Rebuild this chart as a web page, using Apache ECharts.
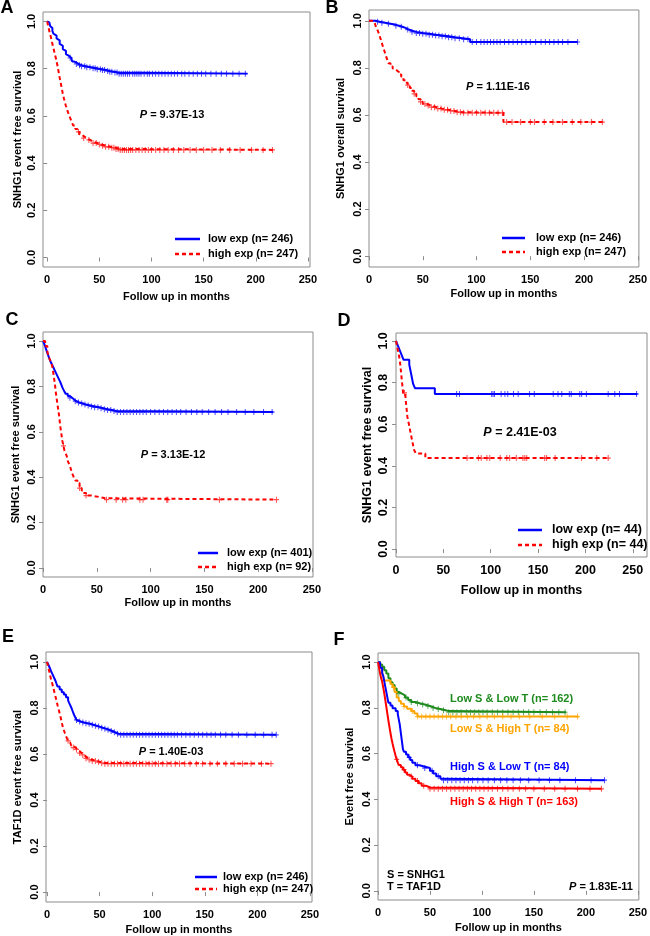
<!DOCTYPE html>
<html><head><meta charset="utf-8">
<script src="https://cdn.jsdelivr.net/npm/echarts@6/dist/echarts.min.js"></script>
<style>html,body{margin:0;padding:0;background:#fff}#c{width:650px;height:936px}</style>
</head><body><div id="c"></div>
<script>
// ---------- tick labels ----------
const xTicks = [0, 50, 100, 150, 200, 250];
const yTicks = [0, 0.2, 0.4, 0.6, 0.8, 1.0];

// ---------- Kaplan-Meier step data [months, survival] ----------
const A_low = [[0,1],[1,0.996],[2,0.988],[3,0.98],[4,0.972],[5,0.96],[6,0.948],[7,0.94],[9,0.928],[10,0.92],[12,0.905],[13,0.897],[15,0.883],[16,0.875],[18,0.862],[19,0.854],[21,0.846],[23,0.838],[24,0.83],[26,0.826],[28,0.82],[30,0.815],[33,0.81],[37,0.806],[42,0.802],[47,0.798],[52,0.794],[57,0.79],[60,0.787],[64,0.784],[68,0.779],[192,0.779]];
const A_high = [[0,1],[1,0.98],[2,0.96],[3,0.944],[4,0.925],[5,0.905],[6,0.888],[7,0.868],[8,0.85],[9,0.832],[10,0.81],[11,0.786],[12,0.762],[13,0.74],[14,0.716],[15,0.694],[16,0.675],[17,0.658],[18,0.642],[19,0.628],[20,0.615],[21,0.603],[22,0.592],[23,0.58],[24,0.569],[25,0.559],[27,0.545],[29,0.532],[31,0.522],[33,0.514],[35,0.506],[38,0.498],[41,0.491],[44,0.485],[48,0.479],[52,0.474],[56,0.469],[61,0.465],[66,0.46],[70,0.456],[218,0.456]];
const A_lowCensor = [22,28,31,33,36,38,41,44,46,48,51,53,55,58,60,62,65,67,69,71,73,75,77,79,82,84,86,88,90,93,96,98,101,104,107,110,113,116,119,122,125,129,132,136,140,144,148,152,157,162,167,172,178,184,190];
const A_highCensor = [30,35,40,44,47,50,53,56,59,62,64,66,68,70,72,74,76,78,80,82,85,88,91,94,97,100,104,108,112,116,121,126,131,137,143,150,158,166,175,185,196,207,216];

const B_low = [[0,1],[6,0.996],[10,0.992],[15,0.988],[20,0.984],[24,0.979],[28,0.975],[31,0.97],[34,0.963],[37,0.958],[40,0.953],[44,0.948],[50,0.945],[56,0.941],[62,0.938],[68,0.934],[74,0.93],[80,0.926],[87,0.922],[94,0.91],[194,0.91]];
const B_high = [[0,1],[3,0.996],[5,0.988],[6,0.98],[7,0.97],[8,0.96],[9,0.948],[10,0.935],[11,0.92],[12,0.905],[13,0.89],[14,0.876],[15,0.862],[16,0.848],[17,0.834],[18,0.82],[20,0.806],[22,0.797],[24,0.789],[26,0.781],[28,0.772],[30,0.762],[32,0.748],[34,0.737],[36,0.727],[38,0.715],[40,0.703],[42,0.69],[44,0.679],[46,0.667],[48,0.656],[50,0.647],[54,0.64],[58,0.633],[63,0.627],[68,0.622],[74,0.617],[80,0.612],[86,0.609],[125,0.57],[219,0.57]];
const B_lowCensor = [8,12,18,25,30,36,40,44,47,50,53,56,59,62,65,68,71,74,77,80,84,88,92,96,100,104,107,110,113,116,119,122,126,130,134,138,142,146,150,155,160,164,168,172,176,180,185,194];
const B_highCensor = [36,42,48,52,55,58,61,64,67,70,73,76,79,82,85,88,92,96,100,104,108,112,116,120,124,128,133,141,150,154,163,171,180,189,197,207,217];

const C_low = [[0,1],[1,0.99],[2,0.976],[3,0.962],[4,0.948],[5,0.935],[6,0.922],[7,0.91],[8,0.9],[9,0.89],[10,0.88],[11,0.87],[12,0.86],[13,0.85],[14,0.84],[15,0.83],[16,0.82],[17,0.808],[18,0.796],[19,0.786],[20,0.777],[21,0.768],[23,0.758],[25,0.75],[27,0.742],[29,0.735],[31,0.729],[34,0.725],[37,0.72],[40,0.716],[44,0.712],[48,0.708],[52,0.704],[56,0.7],[60,0.696],[64,0.692],[68,0.687],[214,0.687]];
const C_high = [[0,1],[2,0.978],[4,0.956],[5,0.934],[6,0.923],[7,0.912],[8,0.901],[9,0.879],[10,0.846],[11,0.813],[12,0.77],[13,0.736],[14,0.703],[15,0.67],[16,0.626],[17,0.593],[18,0.56],[19,0.538],[20,0.516],[21,0.505],[22,0.494],[23,0.472],[24,0.461],[25,0.45],[26,0.434],[27,0.418],[28,0.407],[29,0.396],[30,0.385],[32,0.374],[34,0.352],[36,0.341],[38,0.33],[40,0.319],[45,0.313],[52,0.307],[58,0.301],[217,0.301]];
const C_lowCensor = [25,30,33,36,39,42,45,48,51,54,57,60,63,66,69,72,75,78,81,84,87,90,93,96,100,104,108,112,116,120,124,128,133,138,143,148,154,160,166,172,180,188,196,205,213];
const C_highCensor = [19,34,40,59,68,74,77,90,93,115,116,164,217];

const D_low = [[0,1],[2,0.977],[4,0.955],[6,0.932],[8,0.909],[14,0.886],[15,0.864],[16,0.841],[17,0.818],[18,0.795],[20,0.773],[41,0.745],[255,0.745]];
const D_high = [[0,1],[1,0.977],[2,0.955],[3,0.932],[4,0.909],[4.5,0.886],[5,0.864],[5.5,0.841],[6,0.818],[6.5,0.795],[7,0.773],[7.5,0.75],[10,0.727],[10.5,0.704],[11,0.682],[11.5,0.659],[12,0.636],[13,0.614],[14,0.591],[15,0.568],[16,0.545],[17,0.522],[18,0.5],[19,0.477],[21,0.459],[31,0.437],[224,0.437]];
const D_lowCensor = [64,67,101,102.5,104,111,115,118,124,129,141,146,166,171,175,183,185,194,196,201,224,231,236,254];
const D_highCensor = [9,75,87,90,96,99,110,117,120,127,134,136,138,157,159,168,196,212,224];

const E_low = [[0,1],[1,0.99],[2,0.98],[3,0.97],[4,0.957],[5,0.948],[6,0.938],[7,0.928],[8,0.918],[9,0.905],[10,0.893],[12,0.88],[14,0.868],[16,0.858],[18,0.846],[20,0.833],[21,0.822],[22,0.812],[23,0.802],[24,0.79],[25,0.778],[26,0.767],[27,0.757],[28,0.748],[29,0.741],[32,0.737],[35,0.734],[38,0.731],[41,0.727],[44,0.723],[47,0.719],[50,0.714],[53,0.71],[56,0.705],[59,0.7],[62,0.694],[65,0.688],[68,0.683],[218,0.683]];
const E_high = [[0,1],[1,0.98],[2,0.96],[3,0.94],[4,0.92],[5,0.905],[6,0.887],[7,0.868],[8,0.85],[9,0.831],[10,0.812],[11,0.794],[12,0.776],[13,0.757],[14,0.737],[15,0.717],[16,0.703],[17,0.69],[18,0.678],[19,0.667],[20,0.657],[21,0.65],[22,0.643],[23,0.636],[25,0.628],[27,0.62],[29,0.612],[31,0.604],[33,0.596],[35,0.588],[37,0.581],[40,0.575],[43,0.57],[47,0.565],[51,0.561],[55,0.558],[214,0.558]];
const E_lowCensor = [28,31,34,37,40,43,46,49,52,55,58,61,64,67,70,73,76,79,82,85,88,91,94,97,100,103,106,109,112,115,118,121,124,128,132,136,140,144,148,152,156,160,165,170,176,182,190,198,206,214,218];
const E_highCensor = [20,25,28,31,34,37,40,43,46,49,52,55,58,61,64,67,70,73,76,79,82,85,88,91,94,97,100,103,106,110,114,118,122,126,131,136,142,148,155,162,170,178,186,194,204,213];

const F_lowLow = [[0,1],[2,0.99],[4,0.98],[6,0.965],[8,0.95],[10,0.93],[12,0.912],[14,0.9],[16,0.885],[18,0.87],[20,0.862],[23,0.855],[26,0.845],[29,0.835],[32,0.826],[36,0.82],[40,0.815],[45,0.808],[50,0.8],[55,0.795],[60,0.79],[65,0.786],[68,0.781],[181,0.781]];
const F_lowHigh = [[0,1],[2,0.976],[4,0.952],[5,0.94],[6,0.92],[12,0.905],[14,0.89],[16,0.87],[18,0.845],[20,0.83],[22,0.818],[25,0.806],[28,0.796],[32,0.786],[35,0.775],[38,0.762],[193,0.762]];
const F_highLow = [[0,1],[2,0.976],[4,0.952],[5,0.94],[6,0.917],[7,0.893],[8,0.87],[9,0.846],[10,0.822],[12,0.81],[14,0.798],[17,0.786],[19,0.774],[20,0.75],[21,0.726],[22,0.69],[23,0.655],[24,0.62],[25,0.608],[27,0.596],[29,0.584],[31,0.572],[33,0.56],[36,0.549],[40,0.543],[45,0.537],[50,0.525],[53,0.513],[56,0.501],[60,0.49],[62,0.484],[218,0.484]];
const F_highHigh = [[0,1],[1,0.975],[2,0.95],[3,0.93],[4,0.915],[5,0.89],[6,0.865],[7,0.835],[8,0.805],[9,0.775],[10,0.745],[11,0.717],[12,0.69],[13,0.665],[14,0.644],[15,0.625],[16,0.607],[17,0.59],[18,0.575],[19,0.562],[20,0.55],[22,0.54],[24,0.53],[26,0.518],[28,0.508],[30,0.5],[33,0.49],[36,0.48],[39,0.47],[42,0.46],[46,0.452],[50,0.446],[215,0.446]];
const F_lowLowCensor = [20,27,32,38,43,48,53,58,63,68,72,76,80,85,89,93,97,101,105,110,115,120,125,130,135,140,145,150,156,162,168,174,180];
const F_lowHighCensor = [15,25,33,38,42,46,50,54,58,62,66,70,75,80,86,92,98,105,112,120,128,136,146,158,170,182,192];
const F_highLowCensor = [30,38,45,52,58,63,67,71,75,79,83,87,91,96,101,106,112,118,124,130,137,145,155,165,175,190,205,218];
const F_highHighCensor = [18,25,32,38,44,50,54,58,62,66,70,74,78,82,86,90,94,98,102,106,110,115,120,125,130,136,142,150,160,170,180,192,204,215];

// ---------- texts ----------
const pValues = ['9.37E-13','1.11E-16','3.13E-12','2.41E-03','1.40E-03','1.83E-11'];
const yTitles = ['SNHG1 event free survival','SNHG1 overall survival','SNHG1 event free survival','SNHG1 event free survival','TAF1D event free survival','Event free survival'];
const xTitle = 'Follow up in months';
const groupLabels = ['Low S & Low T (n= 162)','Low S & High T (n= 84)','High S & Low T (n= 84)','High S & High T (n= 163)'];

// ---------- styles / layout ----------
const FONT = '"Liberation Sans", Arial, Helvetica, sans-serif';
const BLUE = '#0000FF', RED = '#FF0000', GREEN = '#1E8B1E', ORANGE = '#FFA500';
const BOX = '#8c8c8c';
const PLUS = 'path://M4,0H6V4H10V6H6V10H4V6H0V4H4Z';

const panels = [
  {letter:'A', lx:7, ly:8, grid:{left:43,top:12,width:267,height:255}, xr:[-4,252], yr:[-0.04,1.04], fs:11, xGap:24, yGap:20,
   curves:[{name:'low exp (n= 246)',c:BLUE,dash:false,d:A_low,cs:A_lowCensor},{name:'high exp (n= 247)',c:RED,dash:true,d:A_high,cs:A_highCensor}],
   p:[172,115], leg:{x1:175,x2:200,tx:208,rows:[239,254]}},
  {letter:'B', lx:332, ly:8, grid:{left:369,top:10,width:270,height:257}, xr:[0,251], yr:[-0.046,1.046], fs:11, xGap:21, yGap:23,
   curves:[{name:'low exp (n= 246)',c:BLUE,dash:false,d:B_low,cs:B_lowCensor},{name:'high exp (n= 247)',c:RED,dash:true,d:B_high,cs:B_highCensor}],
   p:[498,87], leg:{x1:502,x2:525,tx:536,rows:[238,252]}},
  {letter:'C', lx:12, ly:320, grid:{left:43,top:332,width:270,height:245}, xr:[0,251], yr:[-0.04,1.04], fs:11, xGap:20, yGap:22,
   curves:[{name:'low exp (n= 401)',c:BLUE,dash:false,d:C_low,cs:C_lowCensor},{name:'high exp (n= 92)',c:RED,dash:true,d:C_high,cs:C_highCensor}],
   p:[173,455], leg:{x1:198,x2:218,tx:227,rows:[553,567]}},
  {letter:'D', lx:344, ly:321, grid:{left:396,top:333,width:251,height:224}, xr:[0,265], yr:[-0.038,1.038], fs:12.5, xGap:27, yGap:22,
   curves:[{name:'low exp (n= 44)',c:BLUE,dash:false,d:D_low,cs:D_lowCensor},{name:'high exp (n= 44)',c:RED,dash:true,d:D_high,cs:D_highCensor}],
   p:[520,433], leg:{x1:518,x2:542,tx:552,rows:[530,545]}},
  {letter:'E', lx:8, ly:637, grid:{left:46,top:652,width:266,height:250}, xr:[-1,252], yr:[-0.043,1.043], fs:11, xGap:22, yGap:23,
   curves:[{name:'low exp (n= 246)',c:BLUE,dash:false,d:E_low,cs:E_lowCensor},{name:'high exp (n= 247)',c:RED,dash:true,d:E_high,cs:E_highCensor}],
   p:[171,752], leg:{x1:195,x2:217,tx:223,rows:[877,889]}},
  {letter:'F', lx:339, ly:640, grid:{left:378,top:653,width:263,height:247}, xr:[0,251], yr:[-0.04,1.04], fs:11, xGap:22, yGap:23,
   curves:[{name:groupLabels[0],c:GREEN,dash:false,d:F_lowLow,cs:F_lowLowCensor},{name:groupLabels[1],c:ORANGE,dash:false,d:F_lowHigh,cs:F_lowHighCensor},
           {name:groupLabels[2],c:BLUE,dash:false,d:F_highLow,cs:F_highLowCensor},{name:groupLabels[3],c:RED,dash:false,d:F_highHigh,cs:F_highHighCensor}],
   p:[601,887], leg:null,
   labels:[[450,699],[450,729],[450,767],[450,802]]}
];

// survival value at time t (step function of the KM curve)
function stepAt(curve, t) {
  let s = curve[0][1];
  for (const [tt, ss] of curve) { if (tt <= t) s = ss; else break; }
  return s;
}

const grid = [], xAxis = [], yAxis = [], series = [], graphic = [];
panels.forEach((P, i) => {
  grid.push(Object.assign({show:true, borderColor:BOX, borderWidth:1, backgroundColor:'transparent'}, P.grid));
  const lbl = {fontSize:P.fs, fontWeight:'bold', fontFamily:FONT, color:'#000'};
  xAxis.push({type:'value', gridIndex:i, min:P.xr[0], max:P.xr[1],
    name:xTitle, nameLocation:'middle', nameGap:P.xGap, nameTextStyle:lbl,
    axisLine:{show:false}, splitLine:{show:false},
    axisTick:{show:true, length:4, lineStyle:{color:BOX}, customValues:xTicks},
    axisLabel:Object.assign({customValues:xTicks, margin:7}, lbl)});
  yAxis.push({type:'value', gridIndex:i, min:P.yr[0], max:P.yr[1],
    name:yTitles[i], nameLocation:'middle', nameGap:P.yGap, nameTextStyle:lbl,
    axisLine:{show:false}, splitLine:{show:false},
    axisTick:{show:true, length:4, lineStyle:{color:BOX}, customValues:yTicks},
    axisLabel:Object.assign({customValues:yTicks, rotate:90, margin:6, formatter:v=>v.toFixed(1)}, lbl)});
  P.curves.forEach(cv => {
    series.push({type:'line', name:cv.name, xAxisIndex:i, yAxisIndex:i, data:cv.d, step:'end',
      symbol:'none', showSymbol:false, animation:false, silent:true, z:3,
      itemStyle:{color:cv.c},
      lineStyle:{color:cv.c, width:2, type:cv.dash ? [4,3] : 'solid'}});
    series.push({type:'scatter', name:cv.name + ' censored', xAxisIndex:i, yAxisIndex:i,
      data:cv.cs.map(t => [t, stepAt(cv.d, t)]), symbol:PLUS, symbolSize:[5,6],
      animation:false, silent:true, z:4, itemStyle:{color:cv.c, opacity:0.7}});
  });
  if (P.leg) {
    P.curves.forEach((cv, k) => {
      const y = P.leg.rows[k];
      graphic.push({type:'line', silent:true, shape:{x1:P.leg.x1, y1:y, x2:P.leg.x2, y2:y},
        style:{stroke:cv.c, lineWidth:2.5, lineDash:cv.dash ? [4,3] : null}});
      graphic.push({type:'text', silent:true, x:P.leg.tx, y:y, style:{text:cv.name, fontSize:P.fs, fontWeight:'bold', fontFamily:FONT,
        fill:'#000', align:'left', verticalAlign:'middle'}});
    });
  }
  graphic.push({type:'text', x:P.lx, y:P.ly, style:{text:P.letter, font:'bold 18px ' + FONT, fill:'#000', align:'center', verticalAlign:'middle'}});
  graphic.push({type:'text', x:P.p[0], y:P.p[1], style:{text:'{i|P} = ' + pValues[i],
    fontSize:P.fs, fontWeight:'bold', fontFamily:FONT, fill:'#000', align:'center', verticalAlign:'middle',
    rich:{i:{fontStyle:'italic', fontWeight:'bold', fontSize:P.fs, fontFamily:FONT}}}});
  if (P.labels) {
    P.labels.forEach((xy, k) => {
      graphic.push({type:'text', x:xy[0], y:xy[1], style:{text:groupLabels[k], fontSize:P.fs, fontWeight:'bold', fontFamily:FONT,
        fill:P.curves[k].c, align:'left', verticalAlign:'middle'}});
    });
    graphic.push({type:'text', x:387, y:875, style:{text:'S = SNHG1', fontSize:P.fs, fontWeight:'bold', fontFamily:FONT, fill:'#000', align:'left', verticalAlign:'middle'}});
    graphic.push({type:'text', x:387, y:887, style:{text:'T = TAF1D', fontSize:P.fs, fontWeight:'bold', fontFamily:FONT, fill:'#000', align:'left', verticalAlign:'middle'}});
  }
});

const chart = echarts.init(document.getElementById('c'), null, {renderer:'canvas'});
chart.setOption({backgroundColor:'#fff', animation:false, grid, xAxis, yAxis, series, graphic});
</script></body></html>
